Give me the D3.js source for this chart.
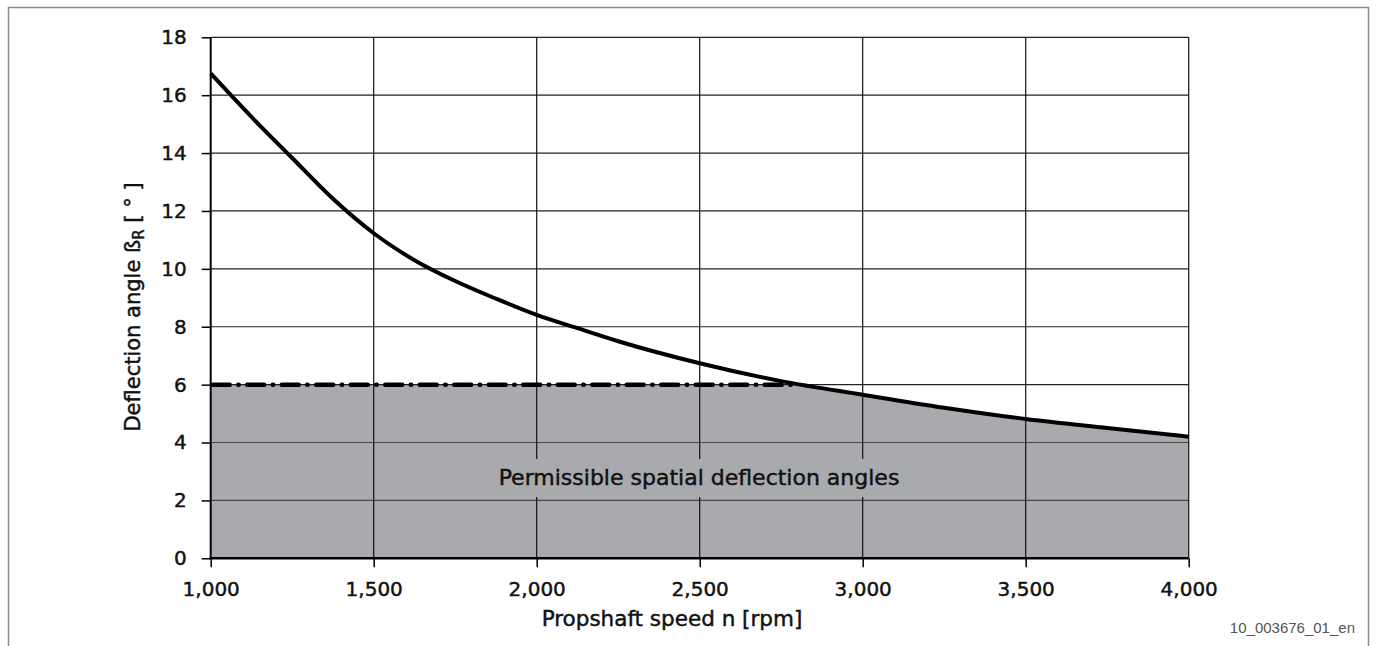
<!DOCTYPE html>
<html>
<head>
<meta charset="utf-8">
<script src="https://cdn.jsdelivr.net/npm/d3@7"></script>
<style>
  html, body { margin: 0; padding: 0; background: #fff; }
  svg { display: block; }
  .t { stroke: #111; stroke-width: 0.45px; }
</style>
</head>
<body>
<svg id="chart" width="1377" height="646"></svg>
<script>
// ---- data ----
const speedRpm = [1000, 1125, 1250, 1375, 1500, 1625, 1750, 1875, 2000, 2125, 2250, 2500, 2750, 3000, 3250, 3500, 3750, 4000];
const deflectionDeg = [16.75, 15.25, 13.83, 12.42, 11.23, 10.3, 9.58, 8.97, 8.41, 7.95, 7.5, 6.74, 6.12, 5.65, 5.2, 4.81, 4.5, 4.2];
const permissibleLimit = 6;
const limitLineEnd = 2790;
const xTicks = [1000, 1500, 2000, 2500, 3000, 3500, 4000];
const yTicks = [0, 2, 4, 6, 8, 10, 12, 14, 16, 18];
const xTitle = "Propshaft speed n [rpm]";
const areaLabel = "Permissible spatial deflection angles";
const docId = "10_003676_01_en";

const svg = d3.select("#chart");
const FONT = "'DejaVu Sans', sans-serif";

// frame
svg.append("rect").attr("x", 8.5).attr("y", 7.5).attr("width", 1360).attr("height", 660)
  .attr("fill", "none").attr("stroke", "#8a8a8a").attr("stroke-width", 1.5);

const x = d3.scaleLinear().domain([1000, 4000]).range([210.7, 1188.7]);
const y = d3.scaleLinear().domain([0, 18]).range([558.3, 37.3]);

const pts = speedRpm.map((s, i) => ({ s, v: deflectionDeg[i] }));

// clip for shaded region (below the limit)
const defs = svg.append("defs");
defs.append("clipPath").attr("id", "limitClip").append("rect")
  .attr("x", x(1000)).attr("y", y(permissibleLimit))
  .attr("width", x(4000) - x(1000)).attr("height", y(0) - y(permissibleLimit));

const area = d3.area().x(d => x(d.s)).y0(y(0)).y1(d => y(d.v)).curve(d3.curveMonotoneX);
svg.append("path").datum(pts).attr("d", area)
  .attr("fill", "#a8aaae").attr("clip-path", "url(#limitClip)");

// grid: horizontal
const gridG = svg.append("g");
yTicks.filter(t => t > 0).forEach(t => {
  gridG.append("line")
    .attr("x1", x(1000)).attr("x2", x(4000))
    .attr("y1", y(t)).attr("y2", y(t))
    .attr("stroke", t < permissibleLimit ? "#4a4a4a" : "#222")
    .attr("stroke-width", 1.2);
});
// grid: vertical
xTicks.filter(t => t > 1000).forEach(t => {
  gridG.append("line")
    .attr("x1", x(t)).attr("x2", x(t))
    .attr("y1", y(18)).attr("y2", y(0))
    .attr("stroke", "#111").attr("stroke-width", 1.2);
});

// label with background
const labelX = 699, labelY = 485;
svg.append("rect").attr("x", labelX - 210).attr("y", 459).attr("width", 420).attr("height", 38)
  .attr("fill", "#a8aaae");
svg.append("text").attr("class", "t").attr("x", labelX).attr("y", labelY)
  .attr("text-anchor", "middle").attr("font-family", FONT).attr("font-size", 22)
  .attr("fill", "#111").text(areaLabel);

// dash-dot limit line
svg.append("line")
  .attr("x1", x(1000) + 2).attr("x2", x(limitLineEnd))
  .attr("y1", y(permissibleLimit)).attr("y2", y(permissibleLimit))
  .attr("stroke", "#000").attr("stroke-width", 4.5)
  .attr("stroke-linecap", "round")
  .attr("stroke-dasharray", "17,8.5,0.5,8.5");

// curve
const line = d3.line().x(d => x(d.s)).y(d => y(d.v)).curve(d3.curveMonotoneX);
svg.append("path").datum(pts).attr("d", line)
  .attr("fill", "none").attr("stroke", "#000").attr("stroke-width", 4);

// axes
const yAxis = d3.axisLeft(y).tickValues(yTicks).tickSize(9).tickSizeOuter(0).tickPadding(15);
const yG = svg.append("g").attr("transform", `translate(${x(1000)},0)`).call(yAxis);
const xAxis = d3.axisBottom(x).tickValues(xTicks).tickSize(9).tickSizeOuter(0).tickPadding(15)
  .tickFormat(d3.format(","));
const xG = svg.append("g").attr("transform", `translate(0,${y(0)})`).call(xAxis);
[yG, xG].forEach(g => {
  g.select(".domain").remove();
  g.selectAll(".tick line").attr("stroke", "#000").attr("stroke-width", 1.5);
  g.selectAll(".tick text").attr("class", "t").attr("font-family", FONT).attr("font-size", 20).attr("fill", "#111");
});
svg.append("line").attr("x1", x(1000)).attr("x2", x(1000)).attr("y1", y(18)).attr("y2", y(0) + 1)
  .attr("stroke", "#000").attr("stroke-width", 2);
svg.append("line").attr("x1", x(1000) - 1).attr("x2", x(4000)).attr("y1", y(0)).attr("y2", y(0))
  .attr("stroke", "#000").attr("stroke-width", 2.5);

// axis titles
svg.append("text").attr("class", "t").attr("x", 672).attr("y", 626)
  .attr("text-anchor", "middle").attr("font-family", FONT).attr("font-size", 21.5)
  .attr("fill", "#111").text(xTitle);

const yt = svg.append("text").attr("class", "t").attr("transform", "translate(140,307) rotate(-90)")
  .attr("text-anchor", "middle").attr("font-family", FONT).attr("font-size", 21).attr("fill", "#111");
yt.append("tspan").text("Deflection angle ß");
yt.append("tspan").attr("font-size", 15).attr("dy", 4).text("R");
yt.append("tspan").attr("dy", -4).text(" [ ° ]");

// document id
svg.append("text").attr("x", 1355).attr("y", 633)
  .attr("text-anchor", "end").attr("font-family", "'Liberation Sans', Arial, sans-serif")
  .attr("font-size", 15).attr("fill", "#555").text(docId);
</script>
</body>
</html>
